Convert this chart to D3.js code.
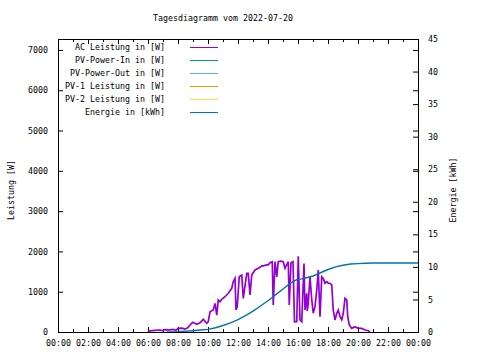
<!DOCTYPE html>
<html><head><meta charset="utf-8">
<script src="https://cdn.jsdelivr.net/npm/d3@7"></script>
<style>
body{margin:0;background:#fff}
svg text{font-family:"DejaVu Sans Mono",monospace;font-size:8.3px;fill:#000}
</style>
</head><body><svg id="c" width="480" height="360"></svg>
<script>
const chartTitle = "Tagesdiagramm vom 2022-07-20";
const yLabel = "Leistung [W]";
const y2Label = "Energie [kWh]";
const xTickLabels = ["00:00","02:00","04:00","06:00","08:00","10:00","12:00","14:00","16:00","18:00","20:00","22:00","00:00"];
const yTicks = [0,1000,2000,3000,4000,5000,6000,7000];
const y2Ticks = [0,5,10,15,20,25,30,35,40,45];
const legendLabels = ["AC Leistung in [W]","PV-Power-In in [W]","PV-Power-Out in [W]","PV-1 Leistung in [W]","PV-2 Leistung in [W]","Energie in [kWh]"];
const legendColors = ["#9400d3","#009e73","#56b4e9","#e69f00","#f0e442","#0072b2"];

const acTimes = ["06:00","06:08","06:28","06:48","07:00","07:08","07:28","07:40","07:52","08:00","08:16","08:28","08:40","08:48","08:59","09:15","09:28","09:35","09:41","09:55","10:01","10:08","10:21","10:28","10:35","10:41","10:48","10:55","11:08","11:21","11:35","11:41","11:48","11:52","11:57","12:05","12:15","12:21","12:35","12:41","12:48","12:55","13:08","13:21","13:28","13:35","13:41","13:55","14:01","14:08","14:17","14:21","14:28","14:35","14:41","14:50","15:01","15:08","15:21","15:25","15:32","15:40","15:46","15:55","16:01","16:08","16:15","16:24","16:28","16:35","16:37","16:41","16:48","16:55","17:01","17:08","17:15","17:21","17:28","17:35","17:41","17:48","17:55","18:01","18:08","18:15","18:21","18:28","18:35","18:41","18:48","18:55","19:01","19:08","19:15","19:19","19:25","19:35","19:48","20:01","20:15","20:28","20:41","20:48"];
const acWatts = [0,30,40,50,30,60,55,65,40,90,95,70,110,175,240,190,230,270,315,215,255,500,545,710,420,795,750,810,875,960,1085,1250,1330,545,630,1370,1415,835,1455,1455,920,1415,1540,1580,1605,1640,1640,1665,1665,1720,1745,670,1745,1370,1745,1760,1745,1580,1745,670,1720,1745,250,255,1880,300,255,1700,545,960,520,710,1370,795,465,630,1040,1540,380,1370,1330,1210,1250,1210,1210,1165,545,300,465,545,380,300,465,835,795,380,175,90,130,90,90,50,30,0];

const energyTimes = ["07:15","08:00","09:00","09:30","10:00","10:30","11:00","11:30","12:00","12:30","13:00","13:30","14:00","14:30","15:00","15:30","15:55","16:15","16:30","17:00","17:30","18:00","18:30","19:00","19:30","20:00","20:30","21:00","24:00"];
const energyKWh = [0,0.05,0.2,0.3,0.4,0.65,1.0,1.4,1.9,2.5,3.2,4.0,4.8,5.7,6.6,7.5,8.05,8.15,8.3,8.6,9.1,9.6,10.0,10.25,10.45,10.5,10.55,10.6,10.6];

const toMin = s => { const [h,m] = s.split(":").map(Number); return h*60+m; };

const svg = d3.select("#c");
const L=58, R=418, T=39, B=332;
const x = d3.scaleLinear().domain([0,1440]).range([L,R]);
const y = d3.scaleLinear().domain([0,7272]).range([B,T]);
const y2 = d3.scaleLinear().domain([0,45]).range([B,T]);

const majorX = xTickLabels.map((d,i)=>i*120);
const minorX = d3.range(60,1440,120);

function clean(g){ g.select(".domain").remove(); g.selectAll("line").attr("stroke","#000"); g.selectAll("text").attr("fill","#000").attr("font-family",null).attr("font-size",null); }

svg.append("g").attr("transform",`translate(0,${B})`)
  .call(d3.axisBottom(x).tickValues(majorX).tickSize(-5).tickPadding(8).tickFormat((d,i)=>xTickLabels[i])).call(clean);
svg.append("g").attr("transform",`translate(0,${B})`)
  .call(d3.axisBottom(x).tickValues(minorX).tickSize(-3).tickFormat("")).call(clean);
svg.append("g").attr("transform",`translate(0,${T})`)
  .call(d3.axisTop(x).tickValues(majorX).tickSize(-5).tickFormat("")).call(clean);
svg.append("g").attr("transform",`translate(0,${T})`)
  .call(d3.axisTop(x).tickValues(minorX).tickSize(-3).tickFormat("")).call(clean);
svg.append("g").attr("transform",`translate(${L},0)`)
  .call(d3.axisLeft(y).tickValues(yTicks).tickSize(-5).tickPadding(10).tickFormat(d3.format("d"))).call(clean);
svg.append("g").attr("transform",`translate(${R},0)`)
  .call(d3.axisRight(y).tickValues(yTicks).tickSize(-5).tickFormat("")).call(clean);
svg.append("g").attr("transform",`translate(${R},0)`)
  .call(d3.axisRight(y2).tickValues(y2Ticks).tickSize(-5).tickPadding(10).tickFormat(d3.format("d"))).call(clean);

svg.append("defs").append("clipPath").attr("id","clip").append("rect")
  .attr("x",L).attr("y",T).attr("width",R-L).attr("height",B-T);

const acData = acTimes.map((t,i)=>({t:toMin(t), v:acWatts[i]}));
const enData = energyTimes.map((t,i)=>({t:toMin(t), v:energyKWh[i]}));

svg.append("path").datum(acData).attr("clip-path","url(#clip)")
  .attr("fill","none").attr("stroke",legendColors[0]).attr("stroke-width",1.7)
  .attr("d", d3.line().x(d=>x(d.t)).y(d=>y(d.v)));
svg.append("path").datum(enData).attr("clip-path","url(#clip)")
  .attr("fill","none").attr("stroke",legendColors[5]).attr("stroke-width",1.4)
  .attr("d", d3.line().x(d=>x(d.t)).y(d=>y2(d.v)));

svg.append("rect").attr("x",L+0.5).attr("y",T+0.5).attr("width",R-L).attr("height",B-T)
  .attr("fill","none").attr("stroke","#000").attr("stroke-width",1);

const lg = svg.append("g");
legendLabels.forEach((lab,i)=>{
  const yy = 47 + 13*i;
  lg.append("text").attr("x",165).attr("y",yy).attr("dy","0.35em").attr("text-anchor","end").text(lab);
  lg.append("line").attr("x1",190).attr("x2",218).attr("y1",yy+0.5).attr("y2",yy+0.5)
    .attr("stroke",legendColors[i]).attr("stroke-width",1.2).attr("shape-rendering","crispEdges");
});

svg.append("text").attr("x",223).attr("y",18).attr("dy","0.35em").attr("text-anchor","middle").text(chartTitle);
svg.append("text").attr("transform","translate(11,190) rotate(-90)").attr("dy","0.35em").attr("text-anchor","middle").text(yLabel);
svg.append("text").attr("transform","translate(453,190) rotate(-90)").attr("dy","0.35em").attr("text-anchor","middle").text(y2Label);
</script>
</body></html>
